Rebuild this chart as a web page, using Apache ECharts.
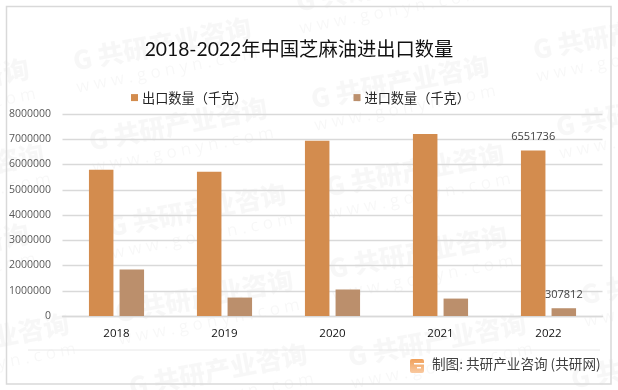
<!DOCTYPE html>
<html>
<head>
<meta charset="utf-8">
<style>html,body{margin:0;padding:0;background:#fff}#c{width:618px;height:390px}</style>
<script src="https://cdn.jsdelivr.net/npm/echarts@6/dist/echarts.min.js"></script>
</head>
<body>
<div id="c"></div>
<script>
var years = ['2018', '2019', '2020', '2021', '2022'];
var exportValues = [5790000, 5710000, 6940000, 7210000, 6551736];
var importValues = [1845000, 730000, 1050000, 690000, 307812];
var titleText = '2018-2022年中国芝麻油进出口数量';
var exportName = '出口数量（千克）';
var importName = '进口数量（千克）';
var sourceText = '制图: 共研产业咨询 (共研网)';

var FONT = 'Lato, "Noto Sans CJK SC", sans-serif';
var marks = [[162,44],[385,-15],[622,33],[400,82],[178,124],[415,170],[645,110],[197,210],[418,252],[670,278],[204,296],[-20,340],[-60,85],[-45,170],[-60,250],[218,370],[437,340],[660,362]];
var wm = marks.map(function (p) {
  return {
    type: 'group', x: p[0], y: p[1], rotation: 0.19, silent: true, z: 0,
    children: [
      {type: 'text', style: {x: 0, y: 0, text: 'G 共研产业咨询', align: 'center', verticalAlign: 'middle', fill: 'rgba(0,0,0,0.032)', font: '900 26px "Noto Sans CJK SC", sans-serif'}},
      {type: 'text', style: {x: 0, y: 27, text: 'w w w . g o n y n . c o m', align: 'center', verticalAlign: 'middle', fill: 'rgba(0,0,0,0.032)', font: '17px "Open Sans", sans-serif'}}
    ]
  };
});
var deco = [
  {type: 'rect', shape: {x: 6.5, y: 6.5, width: 604.5, height: 377.5}, style: {fill: 'none', stroke: '#d9d9d9', lineWidth: 1.5}, silent: true, z: 1},
  {type: 'line', shape: {x1: 28, y1: 350, x2: 600, y2: 350}, style: {stroke: '#e8e8e8', lineWidth: 1}, silent: true, z: 1},
  {type: 'rect', shape: {x: 410, y: 359, width: 14, height: 14, r: 2}, style: {fill: new echarts.graphic.LinearGradient(0, 0, 0, 1, [{offset: 0, color: '#f0a05a'}, {offset: 1, color: '#f9c9a0'}])}, silent: true, z: 2},
  {type: 'rect', shape: {x: 414, y: 363, width: 10, height: 1.5}, style: {fill: '#fff'}, silent: true, z: 3},
  {type: 'rect', shape: {x: 417, y: 367, width: 4, height: 1.5}, style: {fill: '#fff'}, silent: true, z: 3},
  {type: 'text', style: {x: 432, y: 364, text: sourceText, verticalAlign: 'middle', fill: '#404040', font: '13.6px "Noto Sans CJK SC", sans-serif'}, silent: true, z: 3}
];

var chart = echarts.init(document.getElementById('c'), null, {renderer: 'canvas'});
function dataWithLabel(vals) {
  return vals.map(function (v, i) {
    return i === vals.length - 1
      ? {value: v, label: {show: true, position: 'top', distance: 8, fontSize: 11, color: '#404040', fontFamily: '"Open Sans", sans-serif'}}
      : v;
  });
}
chart.setOption({
  animation: false,
  backgroundColor: '#fff',
  title: {text: titleText, left: 294, top: 35, textAlign: 'center',
    textStyle: {fontFamily: FONT, fontSize: 19.3, fontWeight: 'normal', color: '#111'}},
  legend: {left: 131, top: 91, padding: 0, itemWidth: 7, itemHeight: 7, itemGap: 106, icon: 'rect',
    textStyle: {fontFamily: '"Noto Sans CJK SC", sans-serif', fontSize: 13.2, color: '#262626', padding: [0, 0, 0, -1]},
    data: [exportName, importName]},
  grid: {left: 62.5, right: 15.5, top: 114, bottom: 74},
  xAxis: {type: 'category', data: years, axisTick: {show: false},
    axisLine: {lineStyle: {color: '#d9d9d9', width: 1.3}},
    axisLabel: {margin: 12, fontSize: 11.5, color: '#111', fontFamily: '"Open Sans", sans-serif'}},
  yAxis: {type: 'value', min: 0, max: 8000000, interval: 1000000,
    axisLine: {show: false}, axisTick: {show: false},
    axisLabel: {margin: 11.5, fontSize: 10.5, color: '#595959', fontFamily: '"Open Sans", sans-serif', formatter: function (v) { return String(v); }},
    splitLine: {lineStyle: {color: '#d9d9d9', width: 1.3}}},
  series: [
    {name: exportName, type: 'bar', data: dataWithLabel(exportValues), barWidth: 24.5, barGap: '25%', itemStyle: {color: '#d38c4e'}},
    {name: importName, type: 'bar', data: dataWithLabel(importValues), barWidth: 24.5, barGap: '25%', itemStyle: {color: '#bb8f6c'}}
  ],
  graphic: {elements: wm.concat(deco)}
});
</script>
</body>
</html>
